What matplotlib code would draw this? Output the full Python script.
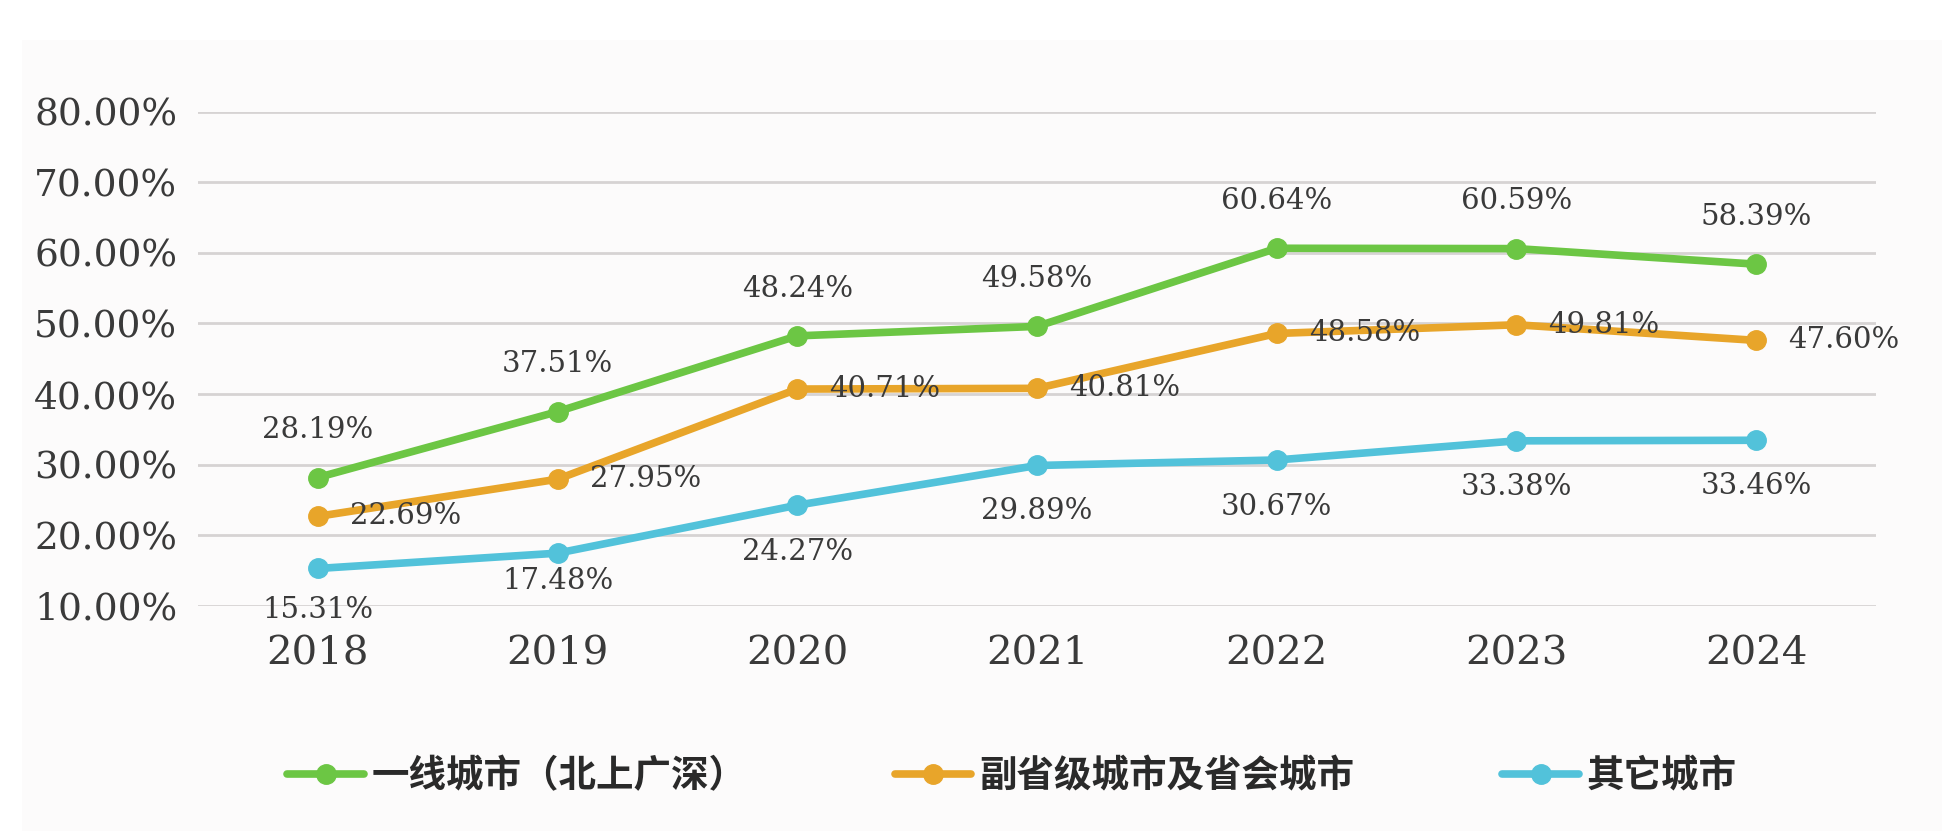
import matplotlib
matplotlib.use("Agg")
import matplotlib.pyplot as plt
from matplotlib.patches import Rectangle

years = ["2018", "2019", "2020", "2021", "2022", "2023", "2024"]
tier1 = [28.19, 37.51, 48.24, 49.58, 60.64, 60.59, 58.39]
provincial = [22.69, 27.95, 40.71, 40.81, 48.58, 49.81, 47.60]
others = [15.31, 17.48, 24.27, 29.89, 30.67, 33.38, 33.46]
names = ["一线城市（北上广深）", "副省级城市及省会城市", "其它城市"]
yticks = [10, 20, 30, 40, 50, 60, 70, 80]

W, H = 1942, 831
fig = plt.figure(figsize=(W / 100, H / 100), dpi=100)
fig.patch.set_facecolor("white")
fig.patches.append(Rectangle((22 / W, 0), 1 - 22 / W, 1 - 40 / H, transform=fig.transFigure,
                             facecolor="#fcfbfb", edgecolor="none", zorder=-5))

ax = fig.add_axes([198 / W, 1 - 606 / H, (1876 - 198) / W, (606 - 111.5) / H])
ax.set_facecolor("none")

cjk = ["Noto Sans CJK SC", "DejaVu Sans"]
serif = "DejaVu Serif"
txt = "#3a3a3a"

colors = ["#6cc644", "#e8a52a", "#52c2da"]
series = [tier1, provincial, others]
x = list(range(len(years)))
for vals, c, n in zip(series, colors, names):
    ax.plot(x, vals, color=c, lw=5.5, marker="o", ms=14, mec=c, mfc=c,
            solid_capstyle="round", label=n, zorder=3)

lab_fs = 21
for xi, v in zip(x, tier1):
    ax.annotate(f"{v:.2f}%", (xi, v), xytext=(0, 34), textcoords="offset points",
                ha="center", va="center", fontsize=lab_fs, family=serif, color=txt, zorder=4)
for xi, v in zip(x, provincial):
    ax.annotate(f"{v:.2f}%", (xi, v), xytext=(23, 0), textcoords="offset points",
                ha="left", va="center", fontsize=lab_fs, family=serif, color=txt, zorder=4)
cyan_off = [30, 20, 34, 33, 34, 33, 33]
for xi, v, o in zip(x, others, cyan_off):
    ax.annotate(f"{v:.2f}%", (xi, v), xytext=(0, -o), textcoords="offset points",
                ha="center", va="center", fontsize=lab_fs, family=serif, color=txt, zorder=4)

ax.set_xlim(-0.5, len(years) - 0.5)
ax.set_ylim(10, 80)
ax.set_yticks(yticks)
ax.set_yticklabels([f"{t:.2f}%" for t in yticks], family=serif, fontsize=27, color=txt)
ax.set_xticks(x)
ax.set_xticklabels(years, family=serif, fontsize=29, color=txt)
ax.tick_params(axis="y", length=0, pad=15)
ax.tick_params(axis="x", length=0, pad=21)
ax.grid(axis="y", color="#d6d3d3", lw=2, zorder=1)
for s in ax.spines.values():
    s.set_visible(False)

leg = fig.legend(loc="center", bbox_to_anchor=(0.521, 1 - 776 / H), ncol=3, frameon=False,
                 prop={"family": cjk, "size": 27, "weight": "bold"},
                 handlelength=2.05, handletextpad=0.2, columnspacing=3.95)
for t in leg.get_texts():
    t.set_color("#2a2a2a")

fig.savefig("out.png", dpi=100, facecolor=fig.get_facecolor())
